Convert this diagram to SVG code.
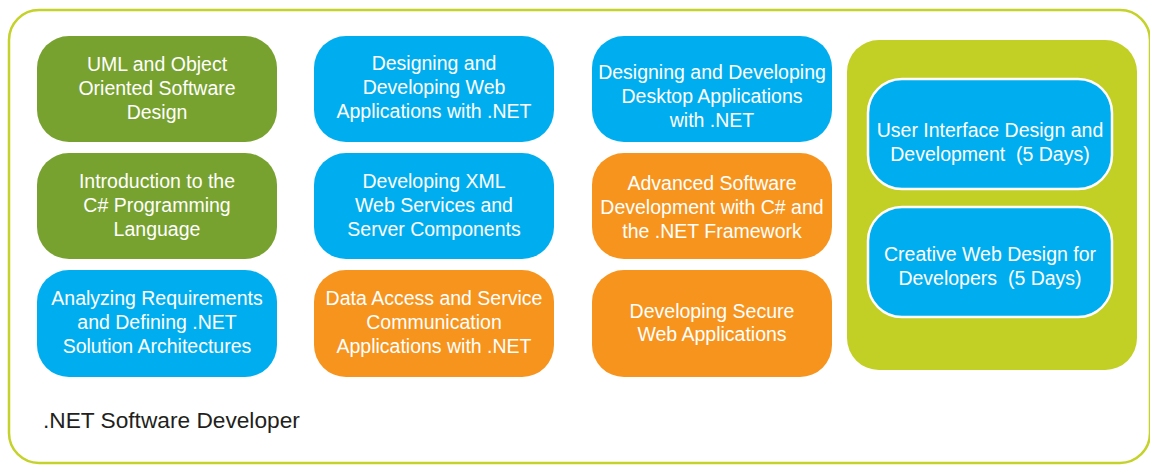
<svg xmlns="http://www.w3.org/2000/svg" width="1150" height="466" viewBox="0 0 1150 466">
<style>
.t{font-family:"Liberation Sans",Arial,sans-serif;font-size:19.5px;fill:#ffffff;text-anchor:middle;white-space:pre}
.g{fill:#78a22f}
.b{fill:#00aeef}
.o{fill:#f7941d}
.w{fill:#00aeef;stroke:#ffffff;stroke-width:2.5}
.lbl{font-family:"Liberation Sans",Arial,sans-serif;font-size:22.7px;fill:#231f20}
</style>
<rect x="0" y="0" width="1150" height="466" fill="#ffffff"/>
<g id="frame">
<rect x="9" y="10" width="1141" height="453" rx="30" ry="30" fill="none" stroke="#c4d22a" stroke-width="2.5"/>
<text class="lbl" x="43" y="428">.NET Software Developer</text>
</g>
<g id="connectors"></g>
<g id="n1"><rect class="g" x="37" y="36" width="240" height="106" rx="32"/>
<text class="t" x="157" y="71">UML and Object</text><text class="t" x="157" y="95">Oriented Software</text><text class="t" x="157" y="119">Design</text></g>
<g id="n2"><rect class="g" x="37" y="153" width="240" height="106" rx="32"/>
<text class="t" x="157" y="188">Introduction to the</text><text class="t" x="157" y="212">C# Programming</text><text class="t" x="157" y="236">Language</text></g>
<g id="n3"><rect class="b" x="37" y="270" width="240" height="107" rx="32"/>
<text class="t" x="157" y="305">Analyzing Requirements</text><text class="t" x="157" y="329">and Defining .NET</text><text class="t" x="157" y="353">Solution Architectures</text></g>
<g id="n4"><rect class="b" x="314" y="36" width="240" height="106" rx="32"/>
<text class="t" x="434" y="70">Designing and</text><text class="t" x="434" y="94">Developing Web</text><text class="t" x="434" y="118">Applications with .NET</text></g>
<g id="n5"><rect class="b" x="314" y="153" width="240" height="106" rx="32"/>
<text class="t" x="434" y="188">Developing XML</text><text class="t" x="434" y="212">Web Services and</text><text class="t" x="434" y="236">Server Components</text></g>
<g id="n6"><rect class="o" x="314" y="270" width="240" height="107" rx="32"/>
<text class="t" x="434" y="305">Data Access and Service</text><text class="t" x="434" y="329">Communication</text><text class="t" x="434" y="353">Applications with .NET</text></g>
<g id="n7"><rect class="b" x="592" y="36" width="240" height="106" rx="32"/>
<text class="t" x="712" y="79">Designing and Developing</text><text class="t" x="712" y="103">Desktop Applications</text><text class="t" x="712" y="127">with .NET</text></g>
<g id="n8"><rect class="o" x="592" y="153" width="240" height="106" rx="32"/>
<text class="t" x="712" y="190">Advanced Software</text><text class="t" x="712" y="214">Development with C# and</text><text class="t" x="712" y="238">the .NET Framework</text></g>
<g id="n9"><rect class="o" x="592" y="270" width="240" height="107" rx="32"/>
<text class="t" x="712" y="318">Developing Secure</text><text class="t" x="712" y="341">Web Applications</text></g>
<g id="group-right"><rect x="847" y="40" width="290" height="330" rx="32" fill="#c2cf24"/></g>
<g id="n10"><rect class="w" x="868" y="79" width="244" height="110" rx="34"/>
<text class="t" x="990" y="137">User Interface Design and</text><text class="t" x="990" y="161">Development  (5 Days)</text></g>
<g id="n11"><rect class="w" x="868" y="207" width="244" height="110" rx="34"/>
<text class="t" x="990" y="261">Creative Web Design for</text><text class="t" x="990" y="285">Developers  (5 Days)</text></g>
</svg>
